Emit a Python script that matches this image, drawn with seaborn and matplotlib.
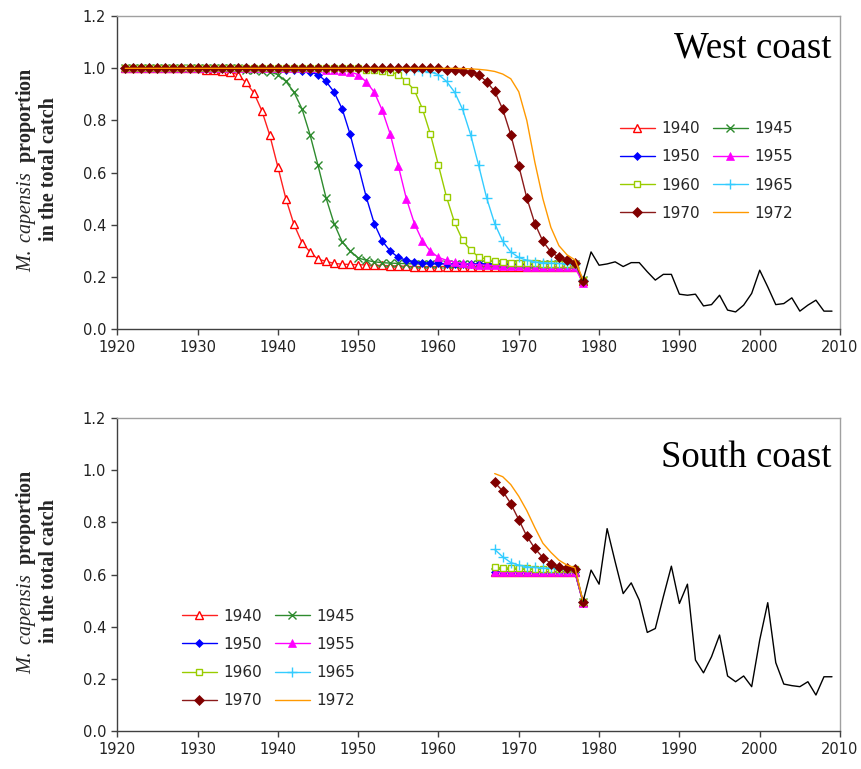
import matplotlib.pyplot as plt
from matplotlib.lines import Line2D
import seaborn as sns

# years
west_years = list(range(1921, 1979))
south_years = list(range(1967, 1979))
obs_years = list(range(1978, 2010))

runs = ['1940', '1945', '1950', '1955', '1960', '1965', '1970', '1972']

# west coast model runs, 1921-1978 (rows of ten years)
west_1940 = [1.0, 1.0, 1.0, 1.0, 1.0, 1.0, 1.0, 1.0, 1.0, 1.0,
             0.995, 0.993, 0.99, 0.986, 0.976, 0.946, 0.907, 0.838, 0.743, 0.622,
             0.50, 0.402, 0.332, 0.296, 0.268, 0.26, 0.252, 0.249, 0.248, 0.247,
             0.246, 0.245, 0.244, 0.243, 0.242, 0.241, 0.24, 0.24, 0.24, 0.24,
             0.24, 0.24, 0.24, 0.24, 0.24, 0.24, 0.24, 0.24, 0.24, 0.24,
             0.24, 0.24, 0.24, 0.239, 0.239, 0.238, 0.238, 0.183]
west_1945 = [1.0, 1.0, 1.0, 1.0, 1.0, 1.0, 1.0, 1.0, 1.0, 1.0,
             1.0, 1.0, 1.0, 1.0, 1.0, 0.995, 0.993, 0.99, 0.986, 0.976,
             0.95, 0.909, 0.845, 0.746, 0.628, 0.503, 0.405, 0.335, 0.30, 0.273,
             0.264, 0.258, 0.255, 0.253, 0.252, 0.251, 0.25, 0.25, 0.25, 0.25,
             0.25, 0.25, 0.25, 0.25, 0.25, 0.25, 0.25, 0.25, 0.25, 0.25,
             0.25, 0.25, 0.25, 0.25, 0.25, 0.25, 0.25, 0.187]
west_1950 = [1.0, 1.0, 1.0, 1.0, 1.0, 1.0, 1.0, 1.0, 1.0, 1.0,
             1.0, 1.0, 1.0, 1.0, 1.0, 1.0, 1.0, 1.0, 1.0, 1.0,
             0.995, 0.993, 0.99, 0.986, 0.976, 0.95, 0.909, 0.845, 0.747, 0.628,
             0.507, 0.405, 0.338, 0.299, 0.275, 0.264, 0.258, 0.255, 0.253, 0.252,
             0.251, 0.25, 0.25, 0.25, 0.25, 0.25, 0.25, 0.25, 0.25, 0.25,
             0.25, 0.25, 0.25, 0.25, 0.25, 0.25, 0.25, 0.188]
west_1955 = [1.0, 1.0, 1.0, 1.0, 1.0, 1.0, 1.0, 1.0, 1.0, 1.0,
             1.0, 1.0, 1.0, 1.0, 1.0, 1.0, 1.0, 1.0, 1.0, 1.0,
             1.0, 1.0, 1.0, 1.0, 1.0, 0.995, 0.993, 0.99, 0.986, 0.976,
             0.948, 0.909, 0.839, 0.747, 0.626, 0.50, 0.405, 0.338, 0.299, 0.275,
             0.264, 0.258, 0.252, 0.249, 0.247, 0.245, 0.244, 0.243, 0.242, 0.241,
             0.24, 0.24, 0.239, 0.239, 0.238, 0.238, 0.237, 0.176]
west_1960 = [1.0, 1.0, 1.0, 1.0, 1.0, 1.0, 1.0, 1.0, 1.0, 1.0,
             1.0, 1.0, 1.0, 1.0, 1.0, 1.0, 1.0, 1.0, 1.0, 1.0,
             1.0, 1.0, 1.0, 1.0, 1.0, 1.0, 1.0, 1.0, 1.0, 1.0,
             0.995, 0.993, 0.99, 0.986, 0.976, 0.95, 0.916, 0.845, 0.747, 0.628,
             0.507, 0.409, 0.341, 0.303, 0.277, 0.268, 0.26, 0.256, 0.254, 0.253,
             0.252, 0.252, 0.251, 0.251, 0.25, 0.25, 0.25, 0.188]
west_1965 = [1.0, 1.0, 1.0, 1.0, 1.0, 1.0, 1.0, 1.0, 1.0, 1.0,
             1.0, 1.0, 1.0, 1.0, 1.0, 1.0, 1.0, 1.0, 1.0, 1.0,
             1.0, 1.0, 1.0, 1.0, 1.0, 1.0, 1.0, 1.0, 1.0, 1.0,
             1.0, 1.0, 1.0, 1.0, 1.0, 0.995, 0.993, 0.99, 0.986, 0.976,
             0.95, 0.909, 0.843, 0.746, 0.628, 0.503, 0.405, 0.337, 0.296, 0.275,
             0.264, 0.258, 0.255, 0.253, 0.252, 0.251, 0.25, 0.19]
west_1970 = [1.0, 1.0, 1.0, 1.0, 1.0, 1.0, 1.0, 1.0, 1.0, 1.0,
             1.0, 1.0, 1.0, 1.0, 1.0, 1.0, 1.0, 1.0, 1.0, 1.0,
             1.0, 1.0, 1.0, 1.0, 1.0, 1.0, 1.0, 1.0, 1.0, 1.0,
             1.0, 1.0, 1.0, 1.0, 1.0, 1.0, 1.0, 1.0, 1.0, 1.0,
             0.995, 0.993, 0.99, 0.986, 0.976, 0.948, 0.912, 0.843, 0.746, 0.626,
             0.503, 0.405, 0.337, 0.296, 0.275, 0.264, 0.254, 0.185]
west_1972 = [1.0, 1.0, 1.0, 1.0, 1.0, 1.0, 1.0, 1.0, 1.0, 1.0,
             1.0, 1.0, 1.0, 1.0, 1.0, 1.0, 1.0, 1.0, 1.0, 1.0,
             1.0, 1.0, 1.0, 1.0, 1.0, 1.0, 1.0, 1.0, 1.0, 1.0,
             1.0, 1.0, 1.0, 1.0, 1.0, 1.0, 1.0, 1.0, 1.0, 1.0,
             1.0, 1.0, 0.999, 0.998, 0.996, 0.993, 0.988, 0.978, 0.96, 0.91,
             0.80, 0.64, 0.50, 0.39, 0.32, 0.285, 0.265, 0.19]

# south coast model runs, 1967-1978
south_1940 = [0.608, 0.608, 0.608, 0.608, 0.608, 0.608, 0.608, 0.608, 0.608, 0.608, 0.608, 0.494]
south_1945 = [0.609, 0.609, 0.609, 0.609, 0.609, 0.609, 0.609, 0.609, 0.609, 0.609, 0.609, 0.494]
south_1950 = [0.609, 0.609, 0.609, 0.609, 0.609, 0.609, 0.609, 0.609, 0.609, 0.609, 0.609, 0.494]
south_1955 = [0.608, 0.608, 0.608, 0.608, 0.608, 0.608, 0.608, 0.608, 0.608, 0.608, 0.608, 0.492]
south_1960 = [0.627, 0.626, 0.625, 0.624, 0.624, 0.623, 0.623, 0.623, 0.622, 0.622, 0.622, 0.496]
south_1965 = [0.696, 0.668, 0.646, 0.636, 0.630, 0.627, 0.625, 0.624, 0.623, 0.622, 0.622, 0.496]
south_1970 = [0.953, 0.920, 0.872, 0.810, 0.747, 0.700, 0.665, 0.642, 0.630, 0.626, 0.621, 0.496]
south_1972 = [0.987, 0.975, 0.945, 0.900, 0.845, 0.780, 0.720, 0.685, 0.655, 0.636, 0.626, 0.496]

# observed proportions 1978-2009
west_obs = [0.188, 0.296, 0.245, 0.25, 0.258, 0.24, 0.255, 0.255, 0.22, 0.188,
            0.21, 0.21, 0.134, 0.13, 0.134, 0.089, 0.094, 0.13, 0.073, 0.066,
            0.092, 0.137, 0.226, 0.162, 0.094, 0.098, 0.12, 0.069, 0.092, 0.111,
            0.069, 0.069]
south_obs = [0.496, 0.617, 0.563, 0.776, 0.649, 0.527, 0.568, 0.502, 0.378, 0.393,
             0.515, 0.632, 0.489, 0.563, 0.272, 0.223, 0.285, 0.368, 0.211, 0.189,
             0.211, 0.17, 0.349, 0.492, 0.262, 0.18, 0.174, 0.17, 0.189, 0.138,
             0.208, 0.208]

west_model = dict(zip(runs, [west_1940, west_1945, west_1950, west_1955,
                             west_1960, west_1965, west_1970, west_1972]))
south_model = dict(zip(runs, [south_1940, south_1945, south_1950, south_1955,
                              south_1960, south_1965, south_1970, south_1972]))

# line / marker styles for each run
styles = {
    '1940': dict(color='#FF2020', marker='^', ms=5.5, mfc='white', mec='#FF0000', mew=1.0),
    '1945': dict(color='#2E8B2E', marker='x', ms=5.5, mfc='#2E8B2E', mec='#2E8B2E', mew=1.0),
    '1950': dict(color='#0000FF', marker='D', ms=4.2, mfc='#0000FF', mec='#0000FF', mew=0.5),
    '1955': dict(color='#FF00FF', marker='^', ms=5.5, mfc='#FF00FF', mec='#FF00FF', mew=0.5),
    '1960': dict(color='#99CC00', marker='s', ms=5.0, mfc='white', mec='#99CC00', mew=1.0),
    '1965': dict(color='#33CCFF', marker='+', ms=7.0, mfc='#33CCFF', mec='#33CCFF', mew=1.0),
    '1970': dict(color='#8B1A1A', marker='D', ms=4.8, mfc='#800000', mec='#800000', mew=0.5),
    '1972': dict(color='#FF9900', marker='', ms=0, mfc='#FF9900', mec='#FF9900', mew=0),
}

sns.set_theme(style='white')
plt.rcParams['font.family'] = ['DejaVu Sans']
plt.rcParams['mathtext.fontset'] = 'custom'
plt.rcParams['mathtext.it'] = 'Liberation Serif:italic'
plt.rcParams['mathtext.rm'] = 'Liberation Serif'

fig = plt.figure(figsize=(8.62, 7.69), dpi=100)
ax_w = fig.add_axes([0.136, 0.572, 0.8385, 0.407])
ax_s = fig.add_axes([0.136, 0.0494, 0.8385, 0.407])


def draw_panel(ax, years, model, obs, title, legend_pos):
    for run in runs:
        st = styles[run]
        sns.lineplot(x=years, y=model[run], ax=ax, color=st['color'], linewidth=1.0,
                     legend=False)
        line = ax.lines[-1]
        line.set_marker(st['marker'] if st['marker'] else 'None')
        line.set_markersize(st['ms'])
        line.set_markerfacecolor(st['mfc'])
        line.set_markeredgecolor(st['mec'])
        line.set_markeredgewidth(st['mew'])
    sns.lineplot(x=obs_years, y=obs, ax=ax, color='black', linewidth=1.0, legend=False)

    ax.set_xlim(1920, 2010)
    ax.set_ylim(0, 1.2)
    ax.set_xticks(range(1920, 2011, 10))
    ax.set_yticks([0.0, 0.2, 0.4, 0.6, 0.8, 1.0, 1.2])
    ax.set_yticklabels(['0.0', '0.2', '0.4', '0.6', '0.8', '1.0', '1.2'])
    ax.tick_params(direction='out', length=4, width=1, color='#404040',
                   labelsize=10.5, labelcolor='#222222', pad=4,
                   bottom=True, left=True)
    for side in ['left', 'bottom']:
        ax.spines[side].set_color('#404040')
        ax.spines[side].set_linewidth(1.0)
    for side in ['top', 'right']:
        ax.spines[side].set_color('#A0A0A0')
        ax.spines[side].set_linewidth(1.0)

    ax.set_ylabel('$\\mathit{M.\\ capensis}$  proportion\nin the total catch',
                  family='Liberation Serif', weight='bold', fontsize=14.5,
                  va='center', linespacing=1.1)
    ax.yaxis.set_label_coords(-0.112, 0.51)

    ax.text(0.988, legend_pos[2], title, transform=ax.transAxes, ha='right',
            va='baseline', family='Liberation Serif', fontsize=26.5, color='black')

    # legend in row order: 1940 1945 / 1950 1955 / ...
    order = ['1940', '1950', '1960', '1970', '1945', '1955', '1965', '1972']
    handles = []
    for run in order:
        st = styles[run]
        handles.append(Line2D([], [], color=st['color'], linewidth=1.0,
                              marker=st['marker'] if st['marker'] else 'None',
                              markersize=st['ms'], markerfacecolor=st['mfc'],
                              markeredgecolor=st['mec'], markeredgewidth=st['mew']))
    ax.legend(handles, order, ncol=2, frameon=False, loc='upper left',
              bbox_to_anchor=(legend_pos[0], legend_pos[1]), fontsize=11,
              handlelength=2.3, handletextpad=0.45, columnspacing=0.8,
              labelspacing=0.86, borderaxespad=0, borderpad=0)


draw_panel(ax_w, west_years, west_model, west_obs, 'West coast', (0.695, 0.664, 0.869))
draw_panel(ax_s, south_years, south_model, south_obs, 'South coast', (0.089, 0.391, 0.843))

fig.savefig('out.png', dpi=100)
